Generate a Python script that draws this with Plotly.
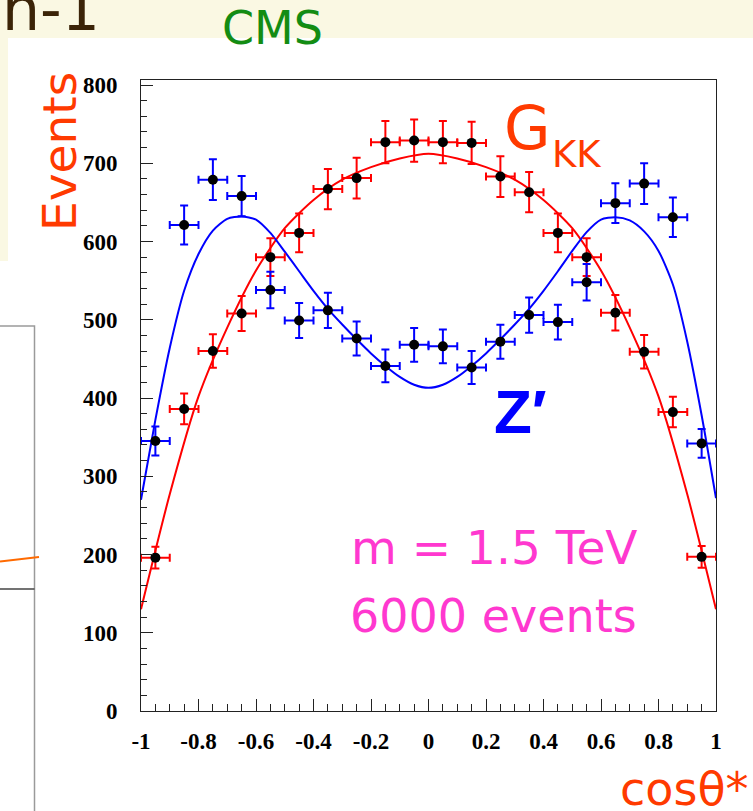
import plotly.graph_objects as go

# ---- data -----------------------------------------------------------------
bin_centers = [-0.95, -0.85, -0.75, -0.65, -0.55, -0.45, -0.35, -0.25, -0.15, -0.05,
               0.05, 0.15, 0.25, 0.35, 0.45, 0.55, 0.65, 0.75, 0.85, 0.95]
bin_half_width = 0.05

gkk_events = [196, 386, 460, 508, 580, 611, 667, 681, 727, 729,
              727, 726, 683, 663, 611, 580, 509, 459, 382, 197]
gkk_errors = [14.0, 19.6, 21.4, 22.5, 24.1, 24.7, 25.8, 26.1, 27.0, 27.0,
              27.0, 26.9, 26.1, 25.7, 24.7, 24.1, 22.6, 21.4, 19.5, 14.0]

zprime_events = [345, 621, 679, 658, 538, 499, 512, 476, 441, 468,
                 466, 439, 472, 506, 497, 548, 649, 674, 631, 342]
zprime_errors = [18.6, 24.9, 26.1, 25.7, 23.2, 22.3, 22.6, 21.8, 21.0, 21.6,
                 21.6, 21.0, 21.7, 22.5, 22.3, 23.4, 25.5, 26.0, 25.1, 18.5]

# fitted angular distributions
gkk_fit_x = [-1.0, -0.9, -0.8, -0.7, -0.6, -0.5, -0.4, -0.3, -0.2, -0.1, 0.0,
             0.1, 0.2, 0.3, 0.4, 0.5, 0.6, 0.7, 0.8, 0.9, 1.0]
gkk_fit_y = [130, 277, 402, 490, 563, 617, 653, 679, 695, 706, 712,
             706, 695, 679, 653, 617, 563, 490, 402, 277, 130]

zprime_fit_x = [-1.0, -0.95, -0.9, -0.85, -0.8, -0.75, -0.7, -0.65, -0.6, -0.55, -0.5,
                -0.45, -0.4, -0.35, -0.3, -0.25, -0.2, -0.15, -0.1, -0.05, 0.0,
                0.05, 0.1, 0.15, 0.2, 0.25, 0.3, 0.35, 0.4, 0.45, 0.5,
                0.55, 0.6, 0.65, 0.7, 0.75, 0.8, 0.85, 0.9, 0.95, 1.0]
zprime_fit_y = [270, 372, 464, 537, 584, 614, 629, 632, 628, 611, 587,
                562, 537, 514, 494, 475, 457, 441, 427, 417, 413,
                417, 427, 441, 457, 475, 494, 514, 537, 562, 588,
                612, 628, 631, 627, 613, 588, 545, 472, 378, 272]

x_tick_vals = [-1, -0.8, -0.6, -0.4, -0.2, 0, 0.2, 0.4, 0.6, 0.8, 1]
x_tick_text = ["-1", "-0.8", "-0.6", "-0.4", "-0.2", "0", "0.2", "0.4", "0.6", "0.8", "1"]
y_tick_vals = [0, 100, 200, 300, 400, 500, 600, 700, 800]
y_tick_text = ["0", "100", "200", "300", "400", "500", "600", "700", "800"]

# ---- page geometry (pixels) ----------------------------------------------
W, H = 753, 811
L, R, T, B = 141, 716, 80, 711


def px(x):
    return (x - L) / (R - L)


def py(y):
    return (B - y) / (B - T)


RED = "#ff0000"
BLUE = "#0000ff"
ORANGE_RED = "#ff3a00"
MAGENTA = "#ff38cf"
CREAM = "#faf8e3"

fig = go.Figure()

fig.add_trace(go.Scatter(x=gkk_fit_x, y=gkk_fit_y, mode="lines",
                         line=dict(color=RED, width=2, shape="spline", smoothing=0.7),
                         hoverinfo="skip"))
fig.add_trace(go.Scatter(x=zprime_fit_x, y=zprime_fit_y, mode="lines",
                         line=dict(color=BLUE, width=2, shape="spline", smoothing=0.7),
                         hoverinfo="skip"))

for ys, es, col in [(gkk_events, gkk_errors, RED), (zprime_events, zprime_errors, BLUE)]:
    fig.add_trace(go.Scatter(
        x=bin_centers, y=ys, mode="markers",
        marker=dict(color="black", size=10),
        error_x=dict(type="constant", value=bin_half_width, color=col, thickness=2, width=4),
        error_y=dict(type="data", array=es, color=col, thickness=2, width=4),
    ))

axis_common = dict(
    ticks="inside", ticklen=12, tickwidth=1, tickcolor="#222",
    showline=True, linecolor="#222", linewidth=1, mirror=True,
    showgrid=False, zeroline=False,
    tickfont=dict(family="Liberation Serif", size=23, color="black", weight="bold"),
)

fig.update_xaxes(range=[-1, 1], tickmode="array", tickvals=x_tick_vals, ticktext=x_tick_text,
                 ticklabelstandoff=9,
                 minor=dict(dtick=0.05, tick0=0, ticks="inside", ticklen=7,
                            tickcolor="#222", showgrid=False),
                 **axis_common)
fig.update_yaxes(range=[0, 806.4], tickmode="array", tickvals=y_tick_vals, ticktext=y_tick_text,
                 ticklabelstandoff=18,
                 minor=dict(dtick=20, tick0=0, ticks="inside", ticklen=6,
                            tickcolor="#222", showgrid=False),
                 **axis_common)

# slide background pieces around the plot (positioned in page pixels)
page = dict(xref="paper", yref="paper", layer="below")
shapes = [
    dict(type="rect", x0=px(0), x1=px(W), y0=py(38), y1=py(0),
         fillcolor=CREAM, line=dict(width=0), **page),
    dict(type="rect", x0=px(0), x1=px(8), y0=py(261), y1=py(38),
         fillcolor=CREAM, line=dict(width=0), **page),
    dict(type="rect", x0=px(-5), x1=px(34.5), y0=py(830), y1=py(326),
         fillcolor="white", line=dict(color="#9a9a9a", width=1.5), **page),
    dict(type="line", x0=px(0), x1=px(34.5), y0=py(589), y1=py(589),
         line=dict(color="#444444", width=1.5), **page),
    dict(type="line", x0=px(0), x1=px(39), y0=py(561.5), y1=py(557),
         line=dict(color="#ff6a00", width=2), **page),
]


def ann(text, x, y, size, color, family="DejaVu Sans", xanchor="center",
        yanchor="middle", angle=0, weight="normal"):
    return dict(text=text, x=px(x), y=py(y), xref="paper", yref="paper",
                xanchor=xanchor, yanchor=yanchor, showarrow=False, textangle=angle,
                font=dict(family=family, size=size, color=color, weight=weight))


annotations = [
    ann("n-1", 0, 9, 60, "#3b2408", xanchor="left"),
    ann("CMS", 272, 28, 46, "#138c13"),
    ann("Events", 59, 152, 47, ORANGE_RED, angle=-90),
    ann("G", 527, 128, 60, ORANGE_RED),
    ann("KK", 577, 154, 37, ORANGE_RED),
    ann("Z′", 520, 412, 62, BLUE, family="Liberation Sans", weight="bold"),
    ann("m = 1.5 TeV", 494, 547, 47, MAGENTA),
    ann("6000 events", 493, 616, 46, MAGENTA),
    ann("cosθ*", 618, 789, 46, ORANGE_RED, xanchor="left"),
]

fig.update_layout(
    width=W, height=H,
    margin=dict(l=L, r=W - R, t=T, b=H - B),
    paper_bgcolor="white", plot_bgcolor="white",
    showlegend=False,
    shapes=shapes,
    annotations=annotations,
)

fig.write_html("out.html")
